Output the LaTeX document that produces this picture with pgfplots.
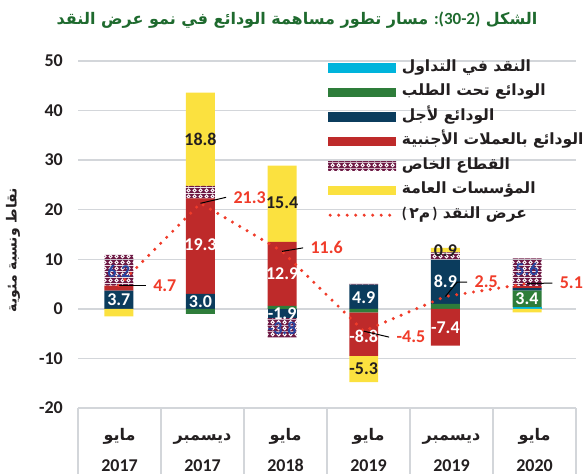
\documentclass[border=0pt]{standalone}
\usepackage{fontspec}
\usepackage{pgfplots}
\usepackage{pgfplotstable}
\pgfplotsset{compat=1.18}
\usetikzlibrary{patterns.meta}
\setmainfont{Carlito}
\newfontfamily\ar[Script=Arabic]{DejaVu Sans}
\TeXXeTstate=1
\definecolor{ccyan}{HTML}{00B4DC}
\definecolor{cgreen}{HTML}{2E7D3A}
\definecolor{cnavy}{HTML}{0B3C5D}
\definecolor{cred}{HTML}{BE2A2A}
\definecolor{cmaroon}{HTML}{6E1A45}
\definecolor{cyellow}{HTML}{FBE13F}
\definecolor{lred}{HTML}{F03C2A}
\definecolor{tgreen}{HTML}{1E6A2E}
\definecolor{lblue}{HTML}{2846A0}
\definecolor{gridc}{HTML}{D3D6DA}
\definecolor{tickc}{HTML}{231F20}

\tikzdeclarepattern{
  name=lace, type=colored,
  bottom left={(0pt,0pt)}, top right={(6pt,6pt)},
  tile size={(6pt,6pt)},
  code={
    \fill[cmaroon] (0pt,0pt) rectangle (6pt,6pt);
    \draw[white, line width=1.1pt] (3pt,3pt) circle (1.8pt);
  }
}

\pgfplotsset{
  swatch/.style={legend image code/.code={\fill[##1] (0pt,-4.7pt) rectangle (68pt,4.7pt);}},
  dotleg/.style={legend image code/.code={\draw[##1] (2pt,0pt) -- (68pt,0pt);}},
  samebox/.style={at={(78pt,66pt)}, anchor=south west,
    scale only axis, width=498pt, height=347pt,
    xmin=-0.5, xmax=5.6, ymin=-20, ymax=50},
}

\pgfplotstableread{
x cyan green navy red priv pub
0 0   0   3.7 1.0  6.2 0
1 0   0   3.0 19.3 2.5 18.8
2 0   0.6 0   12.9 0   15.4
3 0   0   4.9 0    0.3 0
4 0   1.0 8.9 0    1.5 0.9
5 0.3 3.4 0.5 0.4  5.6 0
}\posv
\pgfplotstableread{
x cyan green navy red priv pub
0 0 0    0    0    0    -1.5
1 0 -1.0 0    0    0    0
2 0 0    -1.9 0    -3.8 0
3 0 -0.7 0    -8.8 0    -5.3
4 0 0    0    -7.4 0    0
5 0 0    0    0    0    -0.7
}\negv
\pgfplotstableread{
x m2
0 4.7
1 21.3
2 11.6
3 -4.5
4 2.5
5 5.1
}\mtwo

\begin{document}
\begin{tikzpicture}
\useasboundingbox (0pt,0pt) rectangle (585pt,474pt);
% positive contributions, grid, ticks, legend
\begin{axis}[
  samebox,
  ybar stacked, bar width=0.355,
  axis line style={draw=none},
  ymajorgrids, grid style={gridc, line width=1.3pt},
  ytick={-20,-10,0,10,20,30,40,50},
  major tick length=0pt,
  /pgf/number format/assume math mode=true,
  yticklabel style={font=\bfseries\fontsize{18}{20}\selectfont, text=tickc, inner sep=0pt, xshift=-15pt},
  xtick={0.00833,1.025,2.0417,3.0583,4.075,5.0917},
  xticklabels={مايو,ديسمبر,مايو,مايو,ديسمبر,مايو},
  xticklabel style={anchor=base, inner sep=0pt, yshift=-32pt, text=tickc, font=\ar\bfseries\fontsize{16}{18}\selectfont},
  extra x ticks={0.00833,1.025,2.0417,3.0583,4.075,5.0917},
  extra x tick labels={2017,2017,2018,2019,2019,2020},
  extra x tick style={grid=none, xticklabel style={yshift=-31pt, font=\bfseries\fontsize{18}{20}\selectfont}},
  ylabel={\ar\bfseries\beginR نقاط ونسبة مئوية\endR},
  ylabel style={at={(axis description cs:-0.1305,0.455)}, anchor=center, font=\fontsize{14}{16}\selectfont, text=tickc},
  clip=false,
  every axis plot/.append style={draw=none},
  legend style={draw=none, fill=none, at={(0.502,1.003)}, anchor=north west,
    font=\ar\bfseries\fontsize{15.5}{17}\selectfont, text=tickc,
    row sep=8.5pt, column sep=4pt, inner sep=0pt,
    nodes={inner sep=0pt, text height=11pt, text depth=5pt}},
  legend cell align=left,
]
\addplot[fill=ccyan, swatch] table[x=x,y=cyan]{\posv};
\addplot[fill=cgreen, swatch] table[x=x,y=green]{\posv};
\addplot[fill=cnavy, swatch] table[x=x,y=navy]{\posv};
\addplot[fill=cred, swatch] table[x=x,y=red]{\posv};
\addplot[pattern=lace, swatch] table[x=x,y=priv]{\posv};
\addplot[fill=cyellow, swatch] table[x=x,y=pub]{\posv};
\addlegendimage{dotleg, lred, line width=3.4pt, dash pattern=on 0pt off 8.5pt, line cap=round}
\legend{{\beginR النقد في التداول\endR},{\beginR الودائع تحت الطلب\endR},{\beginR الودائع لأجل\endR},{\beginR الودائع  بالعملات الأجنبية\endR},{\beginR القطاع الخاص\endR},{\beginR المؤسسات العامة\endR},{\hbox{\rmfamily\bfseries(}\,\hbox{٢}\hbox{م}\,\hbox{\rmfamily\bfseries)}\ \beginR عرض النقد\endR}}
\pgfplotsinvokeforeach{-0.5,0.5167,1.5333,2.55,3.5667,4.5833,5.6}{
  \draw[gridc, line width=1.3pt] (axis cs:#1,-20) -- ++(0pt,-66pt);
}
\end{axis}
% negative contributions
\begin{axis}[
  samebox, hide axis, clip=false,
  ybar stacked, bar width=0.355,
  every axis plot/.append style={draw=none},
]
\addplot[fill=ccyan] table[x=x,y=cyan]{\negv};
\addplot[fill=cgreen] table[x=x,y=green]{\negv};
\addplot[fill=cnavy] table[x=x,y=navy]{\negv};
\addplot[fill=cred] table[x=x,y=red]{\negv};
\addplot[pattern=lace] table[x=x,y=priv]{\negv};
\addplot[fill=cyellow] table[x=x,y=pub]{\negv};
\end{axis}
% money supply line and labels
\begin{axis}[samebox, hide axis, clip=false]
\addplot[lred, line width=3.4pt, dash pattern=on 0pt off 8.5pt, line cap=round] table[x=x,y=m2]{\mtwo};
\begin{scope}[every node/.style={font=\bfseries\fontsize{18}{20}\selectfont, inner sep=0pt}]
\node[text=white] at (axis cs:0,1.85) {3.7};
\node[text=lblue] at (axis cs:0,7.5) {6.2};
\node[text=tickc] at (axis cs:1,34.1) {18.8};
\node[text=white] at (axis cs:1,12.9) {19.3};
\node[text=white] at (axis cs:1,1.5) {3.0};
\node[text=tickc] at (axis cs:2,21.4) {15.4};
\node[text=white] at (axis cs:2,7.2) {12.9};
\node[text=white] at (axis cs:2,-0.9) {-1.9};
\node[text=lblue] at (axis cs:2,-3.9) {-3.8};
\node[text=white] at (axis cs:3,2.2) {4.9};
\node[text=white] at (axis cs:3,-5.6) {-8.8};
\node[text=tickc] at (axis cs:3,-12.0) {-5.3};
\node[text=tickc] at (axis cs:4,11.7) {0.9};
\node[text=white] at (axis cs:4,5.5) {8.9};
\node[text=white] at (axis cs:4,-3.9) {-7.4};
\node[text=lblue] at (axis cs:5,8.0) {5.6};
\node[text=white] at (axis cs:5,2.1) {3.4};
\end{scope}
\begin{scope}[every node/.style={font=\bfseries\fontsize{18}{20}\selectfont, inner sep=0pt, text=lred, anchor=west, xshift=7pt}]
\draw[black, line width=1pt] (axis cs:0,4.7) -- (axis cs:0.33,4.7) node {4.7};
\draw[black, line width=1pt] (axis cs:1,21.3) -- (axis cs:1.314,22.5) node {21.3};
\draw[black, line width=1pt] (axis cs:2,11.6) -- (axis cs:2.257,12.3) node {11.6};
\draw[black, line width=1pt] (axis cs:3,-4.5) -- (axis cs:3.311,-5.7) node {-4.5};
\draw[black, line width=1pt] (axis cs:4,2.5) -- (axis cs:4.145,5.4) -- (axis cs:4.267,5.4) node {2.5};
\draw[black, line width=1pt] (axis cs:5,5.1) -- (axis cs:5.31,5.2) node {5.1};
\end{scope}
\end{axis}
\node[font=\ar\bfseries\fontsize{16}{18}\selectfont, text=tgreen] at (297pt,454pt) {\beginR مسار تطور مساهمة الودائع في نمو عرض النقد\endR\ \hbox{\rmfamily\bfseries\fontsize{17}{18}\selectfont :(30-2)}\ \beginR الشكل\endR};
\end{tikzpicture}
\end{document}
